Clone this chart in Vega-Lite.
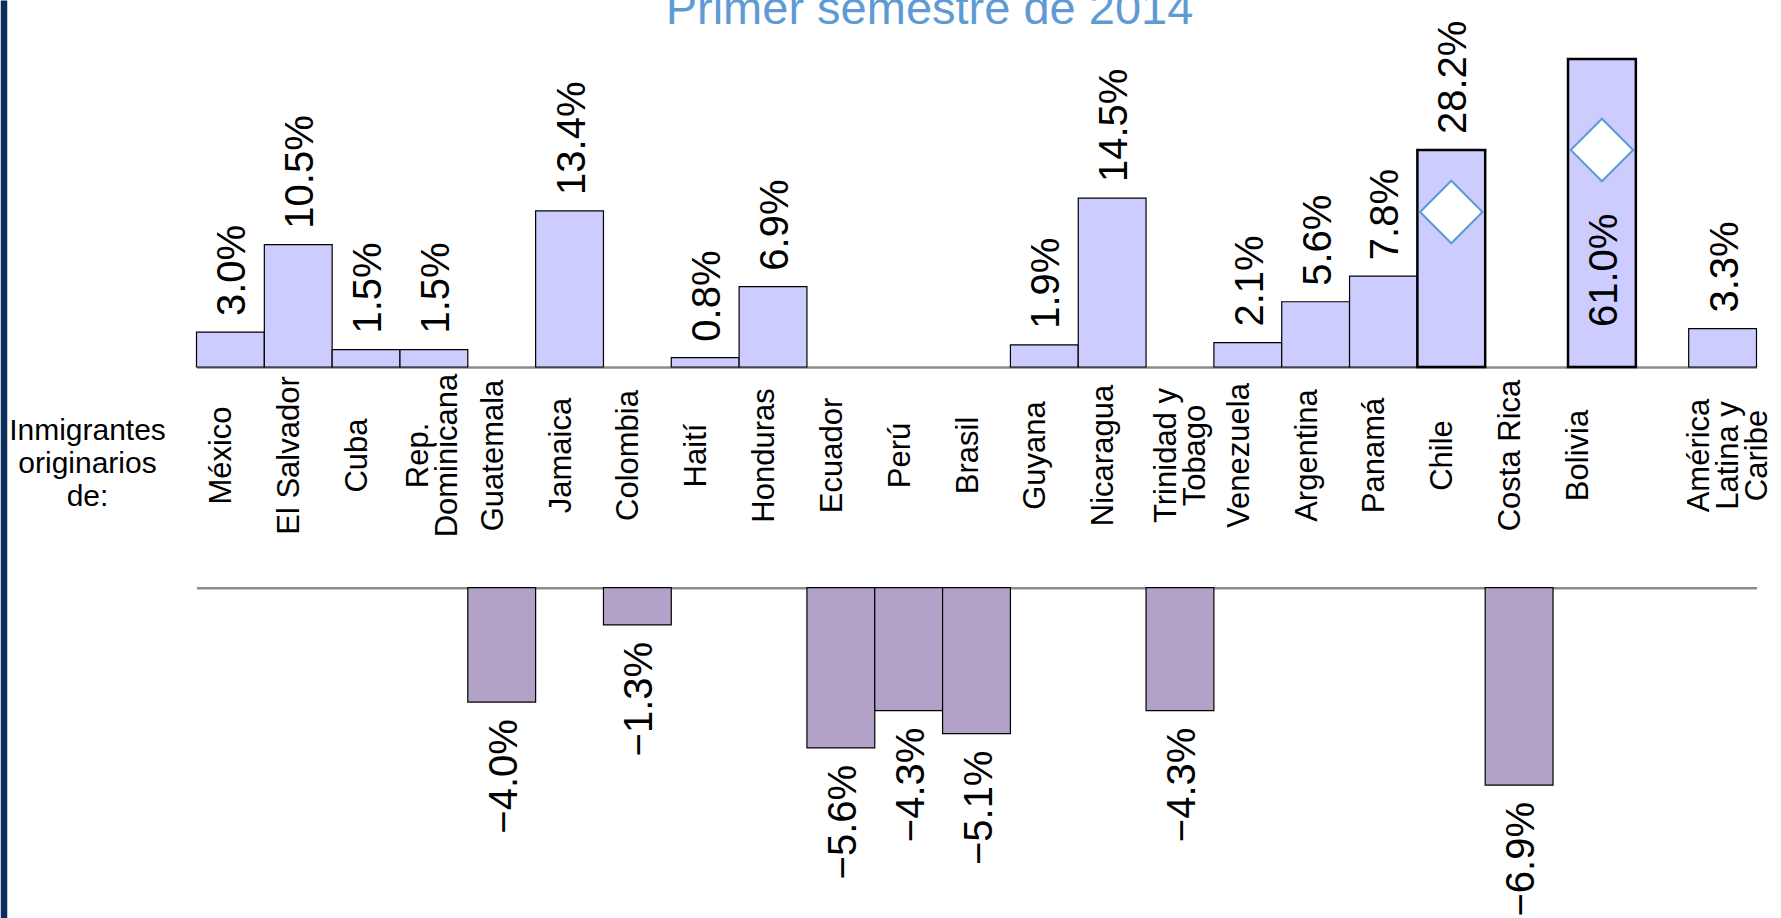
{
  "$schema": "https://vega.github.io/schema/vega-lite/v6.json",
  "width": 1560,
  "height": 327,
  "autosize": {"type": "none"},
  "padding": {"left": 196.5, "top": 40, "right": 24.5, "bottom": 551},
  "background": "white",
  "config": {"view": {"stroke": null}, "font": "Liberation Sans"},
  "title": {
    "text": "Primer semestre de 2014",
    "font": "Liberation Sans",
    "fontSize": 47,
    "fontWeight": "normal",
    "color": "#5F9BD3",
    "anchor": "middle",
    "frame": "group",
    "baseline": "alphabetic",
    "dx": -47,
    "offset": -50
  },
  "data": {
    "values": [
      {"pais": "México", "valor": 0.030},
      {"pais": "El Salvador", "valor": 0.105},
      {"pais": "Cuba", "valor": 0.015},
      {"pais": "Rep. Dominicana", "valor": 0.015},
      {"pais": "Guatemala", "valor": -0.040},
      {"pais": "Jamaica", "valor": 0.134},
      {"pais": "Colombia", "valor": -0.013},
      {"pais": "Haití", "valor": 0.008},
      {"pais": "Honduras", "valor": 0.069},
      {"pais": "Ecuador", "valor": -0.056},
      {"pais": "Perú", "valor": -0.043},
      {"pais": "Brasil", "valor": -0.051},
      {"pais": "Guyana", "valor": 0.019},
      {"pais": "Nicaragua", "valor": 0.145},
      {"pais": "Trinidad y Tobago", "valor": -0.043},
      {"pais": "Venezuela", "valor": 0.021},
      {"pais": "Argentina", "valor": 0.056},
      {"pais": "Panamá", "valor": 0.078},
      {"pais": "Chile", "valor": 0.282},
      {"pais": "Costa Rica", "valor": -0.069},
      {"pais": "Bolivia", "valor": 0.610},
      {"pais": "América Latina y Caribe", "valor": 0.033}
    ]
  },
  "resolve": {"scale": {"y": "independent"}, "axis": {"y": "independent", "x": "independent"}},
  "layer": [
    {
      "transform": [{"filter": "datum.valor > 1"}],
      "mark": {"type": "point", "opacity": 0},
      "encoding": {
        "y": {"field": "valor", "type": "quantitative",
          "scale": {"domain": [0, 1], "range": [878, -40], "nice": false, "zero": false},
          "axis": {"orient": "left", "offset": 193, "domainColor": "#0B2D5B", "domainWidth": 6.5, "labels": false, "ticks": false, "grid": false, "title": null}}
      }
    },
    {
      "transform": [{"filter": "datum.valor > 0 && datum.valor < 0.2"}],
      "mark": {"type": "bar", "fill": "#CCCCFF", "stroke": "black", "strokeWidth": 1.2},
      "encoding": {
        "x": {"field": "pais", "type": "nominal", "sort": null,
          "scale": {"domain": ["México", "El Salvador", "Cuba", "Rep. Dominicana", "Guatemala", "Jamaica", "Colombia", "Haití", "Honduras", "Ecuador", "Perú", "Brasil", "Guyana", "Nicaragua", "Trinidad y Tobago", "Venezuela", "Argentina", "Panamá", "Chile", "Costa Rica", "Bolivia", " ", "América Latina y Caribe"], "paddingInner": 0, "paddingOuter": 0},
          "axis": {
            "orient": "bottom",
            "domainColor": "#8C8C8C",
            "domainWidth": 2.5,
            "ticks": false,
            "tickSize": 0,
            "grid": false,
            "labelAngle": -90,
            "labelAlign": "center",
            "labelBaseline": "middle",
            "labelPadding": 88,
            "labelOffset": {
              "condition": [
                {"test": "datum.value == 'Rep. Dominicana'", "value": -15},
                {"test": "datum.value == 'Trinidad y Tobago'", "value": -13},
                {"test": "datum.value == 'América Latina y Caribe'", "value": -23}
              ],
              "value": -8
            },
            "labelFont": "Liberation Sans",
            "labelFontSize": 31,
            "labelColor": "black",
            "labelLineHeight": 29,
            "labelOverlap": false,
            "labelBound": false,
            "labelFlush": false,
            "labelLimit": 0,
            "labelExpr": "datum.label == 'Rep. Dominicana' ? ['Rep.', 'Dominicana'] : datum.label == 'Trinidad y Tobago' ? ['Trinidad y', 'Tobago'] : datum.label == 'América Latina y Caribe' ? ['América', 'Latina y', 'Caribe'] : datum.label",
            "title": ["Inmigrantes", "originarios", "de:"],
            "titleFont": "Liberation Sans",
            "titleFontSize": 30,
            "titleFontWeight": "normal",
            "titleColor": "black",
            "titleAngle": 0,
            "titleAlign": "center",
            "titleBaseline": "alphabetic",
            "titleLineHeight": 33,
            "titleX": -109.5,
            "titleY": 72
          }},
        "y": {"field": "valor", "type": "quantitative", "scale": {"domain": [0, 0.145, 0.282, 0.61], "range": [327, 158.1, 110, 19], "nice": false, "zero": false}, "axis": null}
      }
    },
    {
      "transform": [{"filter": "datum.pais == 'Chile'"}],
      "mark": {"type": "bar", "fill": "#CCCCFF", "stroke": "black", "strokeWidth": 2.5},
      "encoding": {
        "x": {"field": "pais", "type": "nominal", "sort": null, "scale": {"domain": ["México", "El Salvador", "Cuba", "Rep. Dominicana", "Guatemala", "Jamaica", "Colombia", "Haití", "Honduras", "Ecuador", "Perú", "Brasil", "Guyana", "Nicaragua", "Trinidad y Tobago", "Venezuela", "Argentina", "Panamá", "Chile", "Costa Rica", "Bolivia", " ", "América Latina y Caribe"], "paddingInner": 0, "paddingOuter": 0}, "axis": null},
        "y": {"field": "valor", "type": "quantitative", "scale": {"domain": [0, 0.145, 0.282, 0.61], "range": [327, 158.1, 110, 19], "nice": false, "zero": false}, "axis": null}
      }
    },
    {
      "transform": [{"filter": "datum.pais == 'Bolivia'"}],
      "mark": {"type": "bar", "fill": "#CCCCFF", "stroke": "black", "strokeWidth": 2.5, "xOffset": 15},
      "encoding": {
        "x": {"field": "pais", "type": "nominal", "sort": null, "scale": {"domain": ["México", "El Salvador", "Cuba", "Rep. Dominicana", "Guatemala", "Jamaica", "Colombia", "Haití", "Honduras", "Ecuador", "Perú", "Brasil", "Guyana", "Nicaragua", "Trinidad y Tobago", "Venezuela", "Argentina", "Panamá", "Chile", "Costa Rica", "Bolivia", " ", "América Latina y Caribe"], "paddingInner": 0, "paddingOuter": 0}, "axis": null},
        "y": {"field": "valor", "type": "quantitative", "scale": {"domain": [0, 0.145, 0.282, 0.61], "range": [327, 158.1, 110, 19], "nice": false, "zero": false}, "axis": null}
      }
    },
    {
      "transform": [{"filter": "datum.valor > 0 && datum.pais != 'Bolivia'"}],
      "mark": {"type": "text", "angle": 270, "align": "left", "baseline": "middle", "dx": 16, "dy": 3, "fontSize": 40, "font": "Liberation Sans", "color": "black"},
      "encoding": {
        "x": {"field": "pais", "type": "nominal", "sort": null, "scale": {"domain": ["México", "El Salvador", "Cuba", "Rep. Dominicana", "Guatemala", "Jamaica", "Colombia", "Haití", "Honduras", "Ecuador", "Perú", "Brasil", "Guyana", "Nicaragua", "Trinidad y Tobago", "Venezuela", "Argentina", "Panamá", "Chile", "Costa Rica", "Bolivia", " ", "América Latina y Caribe"], "paddingInner": 0, "paddingOuter": 0}, "axis": null},
        "y": {"field": "valor", "type": "quantitative", "scale": {"domain": [0, 0.145, 0.282, 0.61], "range": [327, 158.1, 110, 19], "nice": false, "zero": false}, "axis": null},
        "text": {"field": "valor", "type": "quantitative", "format": ".1%"}
      }
    },
    {
      "transform": [{"filter": "datum.pais == 'Bolivia'"}],
      "mark": {"type": "text", "angle": 270, "align": "left", "baseline": "middle", "dx": 40, "dy": 3, "xOffset": 15, "fontSize": 40, "font": "Liberation Sans", "color": "black"},
      "encoding": {
        "x": {"field": "pais", "type": "nominal", "sort": null, "scale": {"domain": ["México", "El Salvador", "Cuba", "Rep. Dominicana", "Guatemala", "Jamaica", "Colombia", "Haití", "Honduras", "Ecuador", "Perú", "Brasil", "Guyana", "Nicaragua", "Trinidad y Tobago", "Venezuela", "Argentina", "Panamá", "Chile", "Costa Rica", "Bolivia", " ", "América Latina y Caribe"], "paddingInner": 0, "paddingOuter": 0}, "axis": null},
        "y": {"datum": 0, "type": "quantitative", "scale": {"domain": [0, 0.145, 0.282, 0.61], "range": [327, 158.1, 110, 19], "nice": false, "zero": false}, "axis": null},
        "text": {"field": "valor", "type": "quantitative", "format": ".1%"}
      }
    },
    {
      "transform": [{"filter": "datum.pais == 'Chile'"}],
      "mark": {"type": "point", "shape": "diamond", "size": 3900, "filled": true, "fill": "white", "stroke": "#5B9BD5", "strokeWidth": 2, "opacity": 1, "yOffset": 62},
      "encoding": {
        "x": {"field": "pais", "type": "nominal", "sort": null, "scale": {"domain": ["México", "El Salvador", "Cuba", "Rep. Dominicana", "Guatemala", "Jamaica", "Colombia", "Haití", "Honduras", "Ecuador", "Perú", "Brasil", "Guyana", "Nicaragua", "Trinidad y Tobago", "Venezuela", "Argentina", "Panamá", "Chile", "Costa Rica", "Bolivia", " ", "América Latina y Caribe"], "paddingInner": 0, "paddingOuter": 0}, "axis": null},
        "y": {"field": "valor", "type": "quantitative", "scale": {"domain": [0, 0.145, 0.282, 0.61], "range": [327, 158.1, 110, 19], "nice": false, "zero": false}, "axis": null}
      }
    },
    {
      "transform": [{"filter": "datum.pais == 'Bolivia'"}],
      "mark": {"type": "point", "shape": "diamond", "size": 3900, "filled": true, "fill": "white", "stroke": "#5B9BD5", "strokeWidth": 2, "opacity": 1, "yOffset": 91, "xOffset": 15},
      "encoding": {
        "x": {"field": "pais", "type": "nominal", "sort": null, "scale": {"domain": ["México", "El Salvador", "Cuba", "Rep. Dominicana", "Guatemala", "Jamaica", "Colombia", "Haití", "Honduras", "Ecuador", "Perú", "Brasil", "Guyana", "Nicaragua", "Trinidad y Tobago", "Venezuela", "Argentina", "Panamá", "Chile", "Costa Rica", "Bolivia", " ", "América Latina y Caribe"], "paddingInner": 0, "paddingOuter": 0}, "axis": null},
        "y": {"field": "valor", "type": "quantitative", "scale": {"domain": [0, 0.145, 0.282, 0.61], "range": [327, 158.1, 110, 19], "nice": false, "zero": false}, "axis": null}
      }
    },
    {
      "transform": [{"filter": "datum.valor < 0"}],
      "mark": {"type": "bar", "fill": "#B3A2C7", "stroke": "black", "strokeWidth": 1.2},
      "encoding": {
        "x": {"field": "pais", "type": "nominal", "sort": null, "scale": {"domain": ["México", "El Salvador", "Cuba", "Rep. Dominicana", "Guatemala", "Jamaica", "Colombia", "Haití", "Honduras", "Ecuador", "Perú", "Brasil", "Guyana", "Nicaragua", "Trinidad y Tobago", "Venezuela", "Argentina", "Panamá", "Chile", "Costa Rica", "Bolivia", " ", "América Latina y Caribe"], "paddingInner": 0, "paddingOuter": 0},
          "axis": {"orient": "top", "offset": -547.7, "labels": false, "ticks": false, "grid": false, "title": null, "domainColor": "#8C8C8C", "domainWidth": 2.5}},
        "y": {"field": "valor", "type": "quantitative", "scale": {"domain": [-0.08, 0], "range": [776.5, 547.7], "nice": false, "zero": false}, "axis": null}
      }
    },
    {
      "transform": [{"filter": "datum.valor < 0"}],
      "mark": {"type": "text", "angle": 270, "align": "right", "baseline": "middle", "dx": -17, "dy": 3, "fontSize": 40, "font": "Liberation Sans", "color": "black"},
      "encoding": {
        "x": {"field": "pais", "type": "nominal", "sort": null, "scale": {"domain": ["México", "El Salvador", "Cuba", "Rep. Dominicana", "Guatemala", "Jamaica", "Colombia", "Haití", "Honduras", "Ecuador", "Perú", "Brasil", "Guyana", "Nicaragua", "Trinidad y Tobago", "Venezuela", "Argentina", "Panamá", "Chile", "Costa Rica", "Bolivia", " ", "América Latina y Caribe"], "paddingInner": 0, "paddingOuter": 0}, "axis": null},
        "y": {"field": "valor", "type": "quantitative", "scale": {"domain": [-0.08, 0], "range": [776.5, 547.7], "nice": false, "zero": false}, "axis": null},
        "text": {"field": "valor", "type": "quantitative", "format": ".1%"}
      }
    }
  ]
}
